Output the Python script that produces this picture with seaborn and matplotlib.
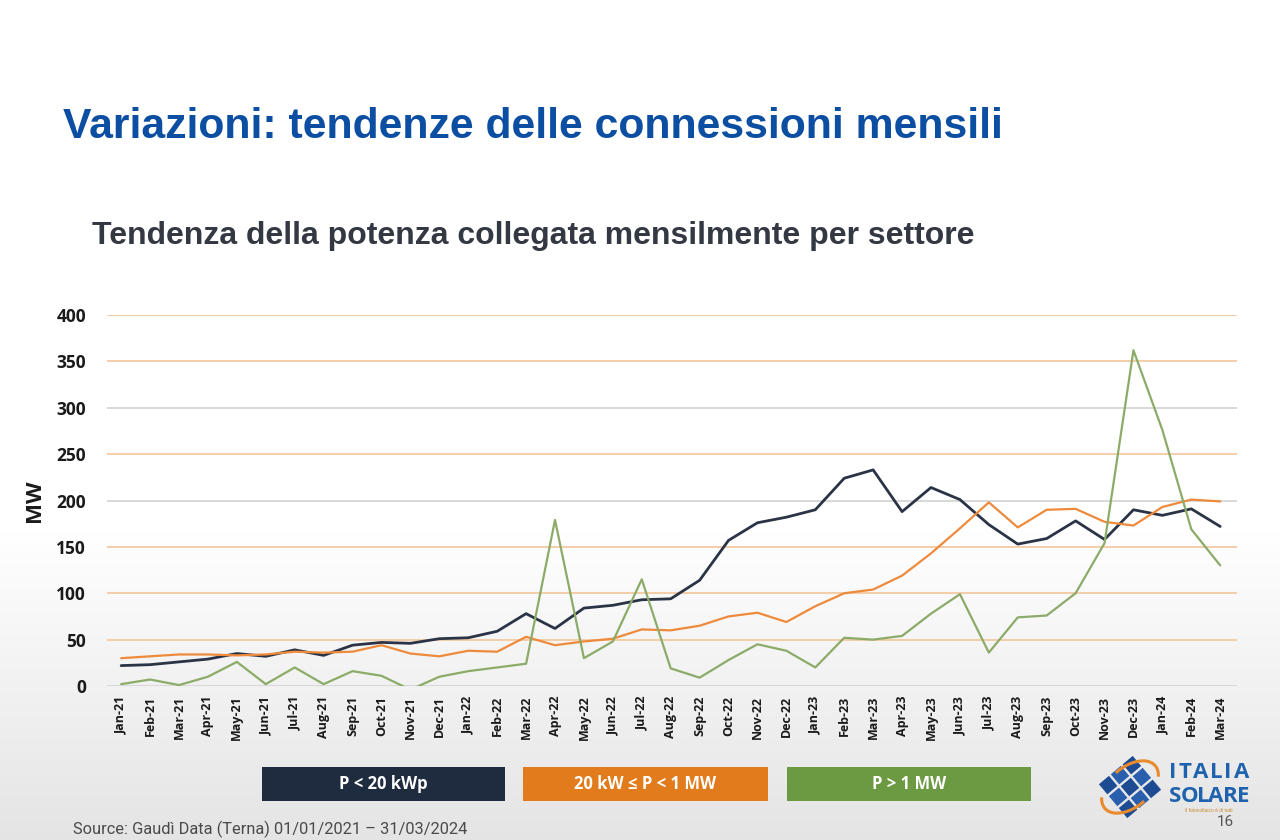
import numpy as np
import pandas as pd
import matplotlib
matplotlib.use("Agg")
import matplotlib.pyplot as plt
import matplotlib.patches as mpatches
import seaborn as sns

months = ["Jan-21","Feb-21","Mar-21","Apr-21","May-21","Jun-21","Jul-21","Aug-21","Sep-21","Oct-21",
          "Nov-21","Dec-21","Jan-22","Feb-22","Mar-22","Apr-22","May-22","Jun-22","Jul-22","Aug-22",
          "Sep-22","Oct-22","Nov-22","Dec-22","Jan-23","Feb-23","Mar-23","Apr-23","May-23","Jun-23",
          "Jul-23","Aug-23","Sep-23","Oct-23","Nov-23","Dec-23","Jan-24","Feb-24","Mar-24"]

small = [22, 23, 26, 29, 35, 32, 39, 33, 44, 47,
         46, 51, 52, 59, 78, 62, 84, 87, 93, 94,
         114, 157, 176, 182, 190, 224, 233, 188, 214, 201,
         174, 153, 159, 178, 158, 190, 184, 191, 172]

medium = [30, 32, 34, 34, 33, 34, 37, 36, 37, 44,
          35, 32, 38, 37, 53, 44, 48, 51, 61, 60,
          65, 75, 79, 69, 86, 100, 104, 119, 143, 170,
          198, 171, 190, 191, 177, 173, 193, 201, 199]

large = [2, 7, 1, 10, 26, 2, 20, 2, 16, 11,
         -4, 10, 16, 20, 24, 179, 30, 48, 115, 19,
         9, 28, 45, 38, 20, 52, 50, 54, 78, 99,
         36, 74, 76, 100, 154, 362, 276, 169, 130]

series_names = ["P < 20 kWp", "20 kW \u2264 P < 1 MW", "P > 1 MW"]
line_colors = ["#2b3446", "#ee8a3c", "#8cab68"]
box_colors = ["#1f2c40", "#e27b1c", "#6c9a42"]
yticks = [0, 50, 100, 150, 200, 250, 300, 350, 400]

df = pd.DataFrame({
    "x": list(range(len(months))) * 3,
    "MW": small + medium + large,
    "series": [series_names[0]] * len(months) + [series_names[1]] * len(months) + [series_names[2]] * len(months),
})

sns.set_theme(style="white")
plt.rcParams["font.family"] = ["Liberation Sans", "DejaVu Sans"]

W, H = 1280, 840
fig = plt.figure(figsize=(12.8, 8.4), dpi=100)

# background gradient
bg = fig.add_axes([0, 0, 1, 1], zorder=-10)
grad = np.ones((H, 1))
yy = np.arange(H)
start = 530
t = np.clip((yy - start) / (H - start), 0, 1)
grad[:, 0] = 1.0 - 0.105 * t
bg.imshow(np.dstack([grad, grad, grad]), aspect="auto", extent=[0, 1, 0, 1], origin="upper")
bg.set_xlim(0, 1); bg.set_ylim(0, 1)
bg.axis("off")

ax = fig.add_axes([107 / W, 1 - 686 / H, (1237 - 107) / W, (686 - 315) / H])
ax.set_facecolor("none")
sns.lineplot(data=df, x="x", y="MW", hue="series", palette=line_colors, hue_order=series_names,
             ax=ax, legend=False, linewidth=1.7, zorder=3)
for ln, lw in zip(ax.lines, [2.0, 1.6, 1.6]):
    ln.set_linewidth(lw)

tickfont = ["Open Sans", "DejaVu Sans"]
ax.set_ylim(0, 400)
ax.set_xlim(-0.49, len(months) - 1 + 0.58)
ax.set_yticks(yticks)
ax.set_yticklabels([str(v) for v in yticks], fontsize=12.5, fontweight="bold", color="#1a1a1a", family=tickfont)
ax.set_xticks(range(len(months)))
ax.set_xticklabels(months, rotation=90, fontsize=9, fontweight="bold", color="#1a1a1a", family=tickfont)
ax.tick_params(axis="y", length=0, pad=15)
ax.tick_params(axis="x", length=0, pad=7)
for s in ax.spines.values():
    s.set_visible(False)
for v in yticks:
    col = "#d6d6d6" if v in (0, 200, 300) else "#f4c9a3"
    ax.axhline(v, color=col, linewidth=1.3, zorder=1)
ax.set_xlabel("")
ax.set_ylabel("MW", fontsize=16, fontweight="bold", color="#1a1a1a", labelpad=8, family=tickfont)

# titles
fig.text(63 / W, 1 - 127 / H, "Variazioni: tendenze delle connessioni mensili", fontsize=30.8,
         fontweight="bold", color="#0b4ea2", va="center", ha="left")
fig.text(92 / W, 1 - 236 / H, "Tendenza della potenza collegata mensilmente per settore", fontsize=23,
         fontweight="bold", color="#333842", va="center", ha="left")

# legend boxes
boxes = [(262, 505), (523, 768), (787, 1031)]
for (x0, x1), name, col in zip(boxes, series_names, box_colors):
    r = mpatches.Rectangle((x0 / W, 1 - 801 / H), (x1 - x0) / W, 34 / H, transform=fig.transFigure,
                           facecolor=col, edgecolor="none")
    fig.add_artist(r)
    fig.text((x0 + x1) / 2 / W, 1 - 784 / H, name, fontsize=12, fontweight="bold", color="white",
             ha="center", va="center", family=["Open Sans", "DejaVu Sans"])

# source
fig.text(73 / W, 1 - 829 / H, "Source: Gaud\u00ec Data (Terna) 01/01/2021 \u2013 31/03/2024", fontsize=11.8,
         color="#4a4a4a", ha="left", va="center", family=["Roboto", "DejaVu Sans"])

# logo
lax = fig.add_axes([1095 / W, 1 - 825 / H, 75 / W, 75 / H])
lax.set_xlim(0, 75); lax.set_ylim(0, 75)
lax.axis("off")
cx, cy = 35, 38
ang = np.deg2rad(40)
step = 15.5
u = np.array([np.cos(ang), np.sin(ang)])
v = np.array([-np.sin(ang), np.cos(ang)])
for i in range(-1, 2):
    for j in range(-1, 2):
        c = np.array([cx, cy]) + i * step * u + j * step * v
        sq = mpatches.RegularPolygon(tuple(c), 4, radius=step * 0.6, orientation=np.pi / 4 + ang,
                                     facecolor="#1e4c93" if (i + j) % 2 == 0 else "#2a5fae", edgecolor="none")
        lax.add_patch(sq)
arc1 = mpatches.Arc((cx, cy), 66, 40, angle=40, theta1=-20, theta2=95, color="#e98a2c", linewidth=2.2)
arc2 = mpatches.Arc((cx, cy), 66, 40, angle=40, theta1=160, theta2=275, color="#e98a2c", linewidth=2.2)
lax.add_patch(arc1); lax.add_patch(arc2)

renderer = fig.canvas.get_renderer()
for word, yc in [("ITALIA", 773), ("SOLARE", 797)]:
    x0, x1 = 1169, 1249
    letters = []
    widths = []
    for ch in word:
        tx = fig.text(0, 0, ch, fontsize=16, fontweight="bold", color="#1f62ae",
                      ha="left", va="center", family=["Open Sans", "DejaVu Sans"])
        letters.append(tx)
        widths.append(tx.get_window_extent(renderer).width)
    gap = ((x1 - x0) - sum(widths)) / (len(word) - 1)
    xc = x0
    for tx, w in zip(letters, widths):
        tx.set_position((xc / W, 1 - yc / H))
        xc += w + gap
fig.text(1209 / W, 1 - 811 / H, "il fotovoltaico \u00e8 di tutti", fontsize=3.5, color="#c8892a",
         ha="center", va="center")
fig.text(1234 / W, 1 - 822 / H, "16", fontsize=11, color="#555555", ha="right", va="center",
         family=["Roboto", "DejaVu Sans"])

fig.savefig("out.png", dpi=100)
